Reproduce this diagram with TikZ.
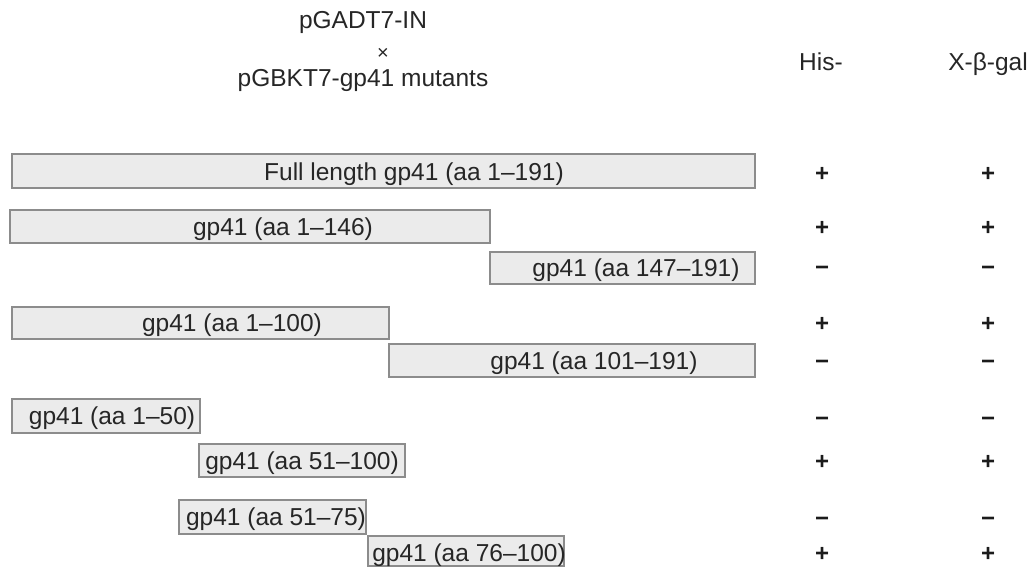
\documentclass[tikz,border=0pt]{standalone}
\usepackage{fontspec}
\setmainfont{Liberation Sans}
\definecolor{boxfill}{HTML}{EBEBEB}
\definecolor{boxline}{HTML}{8C8C8C}
\definecolor{txt}{HTML}{262626}
\begin{document}
\begin{tikzpicture}[x=1pt,y=-1pt,
  bar/.style={draw=boxline,fill=boxfill,line width=1.3pt},
  lbl/.style={anchor=base,inner sep=0pt,text=txt,font=\fontsize{24.5}{28}\selectfont},
  sign/.style={anchor=base,inner sep=0pt,text=txt!70!black,font=\fontsize{24}{28}\selectfont\bfseries}]
\useasboundingbox (0,0) rectangle (1027,566);
% header
\node[lbl] (h1) at (363,28) {pGADT7-IN};
\node[lbl,font=\fontsize{20}{22}\selectfont] (h2) at (383,59) {×};
\node[lbl] (h3) at (363,86) {pGBKT7-gp41 mutants};
\node[lbl] (his) at (821,70) {His-};
\node[lbl] (xgal) at (988,70) {X-β-gal};
% bars
\path[bar] (12,154) rectangle (755,188);
\node[lbl] (b1) at (414,180) {Full length gp41 (aa 1–191)};
\path[bar] (10,210) rectangle (490,243);
\node[lbl] (b2) at (283,235) {gp41 (aa 1–146)};
\path[bar] (490,252) rectangle (755,284);
\node[lbl] (b3) at (636,276) {gp41 (aa 147–191)};
\path[bar] (12,307) rectangle (389,339);
\node[lbl] (b4) at (232,331) {gp41 (aa 1–100)};
\path[bar] (389,344) rectangle (755,377);
\node[lbl] (b5) at (594,369) {gp41 (aa 101–191)};
\path[bar] (12,399) rectangle (200,433);
\node[lbl] (b6) at (112,424) {gp41 (aa 1–50)};
\path[bar] (199,444) rectangle (405,477);
\node[lbl] (b7) at (302,469) {gp41 (aa 51–100)};
\path[bar] (179,500) rectangle (366,534);
\node[lbl] (b8) at (276,525) {gp41 (aa 51–75)};
\path[bar] (368,536) rectangle (564,566);
\node[lbl] (b9) at (469,561) {gp41 (aa 76–100)};
% results
\foreach \y/\a/\b [count=\i] in {173/+/+,227/+/+,267/−/−,323/+/+,361/−/−,418/−/−,461/+/+,518/−/−,553/+/+}{
  \node[sign] (his\i) at (822,\y+8.5) {\a};
  \node[sign] (gal\i) at (988,\y+8.5) {\b};
}
\end{tikzpicture}
\end{document}
